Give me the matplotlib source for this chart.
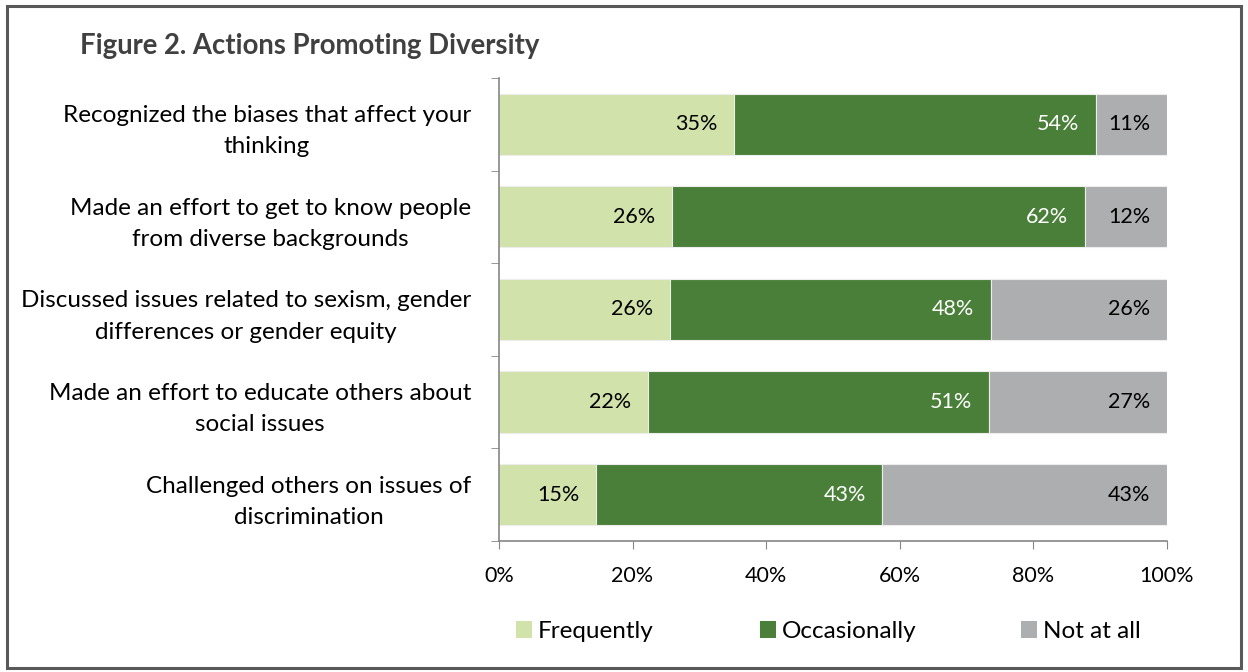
import matplotlib.pyplot as plt
from matplotlib.patches import Patch, Rectangle
from matplotlib.transforms import ScaledTranslation

plt.rcParams['font.family'] = ['Lato', 'DejaVu Sans']

# ---------- Data ----------
actions = [
    "Recognized the biases that affect your\nthinking",
    "Made an effort to get to know people\nfrom diverse backgrounds",
    "Discussed issues related to sexism, gender\ndifferences or gender equity",
    "Made an effort to educate others about\nsocial issues",
    "Challenged others on issues of\ndiscrimination",
]
frequently = [35.2, 25.9, 25.6, 22.3, 14.6]
occasionally = [54.2, 61.8, 48.0, 51.0, 42.8]
not_at_all = [10.6, 12.3, 26.4, 26.7, 42.6]

series = ["Frequently", "Occasionally", "Not at all"]
colors = ["#D1E2AA", "#4A7F39", "#ADAEB0"]
text_colors = ["black", "white", "black"]

# ---------- Graph ----------
fig = plt.figure(figsize=(12.48, 6.72), dpi=100)
ax = fig.add_axes([0.3998, 0.195, 0.5352, 0.689])

rows = range(len(actions))
left = [0] * len(actions)
for name, vals, col, tcol in zip(series, [frequently, occasionally, not_at_all], colors, text_colors):
    ax.barh(rows, vals, left=left, height=0.66, color=col, edgecolor="#EDEDED", linewidth=0.8)
    for i, v in enumerate(vals):
        ax.annotate(f"{v:.0f}%", (left[i] + v, i), xytext=(-12, 0), textcoords="offset points",
                    ha="right", va="center", fontsize=15.5, color=tcol)
    left = [a + b for a, b in zip(left, vals)]

ax.set_xlim(0, 100)
ax.set_ylim(4.5, -0.5)
ax.set_xticks(range(0, 101, 20))
ax.set_xticklabels([f"{t}%" for t in range(0, 101, 20)], fontsize=15.5)
ax.set_yticks(list(rows))
ax.set_yticklabels(actions, fontsize=17.5, multialignment="center", linespacing=1.6)
# nudge the two-line category labels up a little
for lbl in ax.get_yticklabels():
    lbl.set_transform(lbl.get_transform() + ScaledTranslation(0, 0.04, fig.dpi_scale_trans))
ax.set_yticks([r - 0.5 for r in range(len(actions) + 1)], minor=True)
ax.tick_params(axis="y", which="major", length=0, pad=20)
ax.tick_params(axis="y", which="minor", length=6, color="#868686")
ax.tick_params(axis="x", length=6, color="#868686", pad=12)
for s in ["top", "right"]:
    ax.spines[s].set_visible(False)
for s in ["left", "bottom"]:
    ax.spines[s].set_color("#868686")
    ax.spines[s].set_linewidth(1.2)

fig.text(0.064, 0.932, "Figure 2. Actions Promoting Diversity", fontsize=19.8,
         fontweight="bold", color="#404040", va="center")

# one legend entry per series, spaced like the original layout
legend_x = [0.4135, 0.609, 0.818]
for name, col, x in zip(series, colors, legend_x):
    fig.legend(handles=[Patch(facecolor=col, label=name)], loc="center left",
               bbox_to_anchor=(x, 0.06), frameon=False, fontsize=17.5,
               handlelength=0.65, handleheight=0.7, handletextpad=0.25, borderaxespad=0,
               borderpad=0)

fig.add_artist(Rectangle((0.006, 0.006), 0.988, 0.985, transform=fig.transFigure,
                         fill=False, edgecolor="#595959", linewidth=2.2))

plt.savefig("out.png", dpi=100)
